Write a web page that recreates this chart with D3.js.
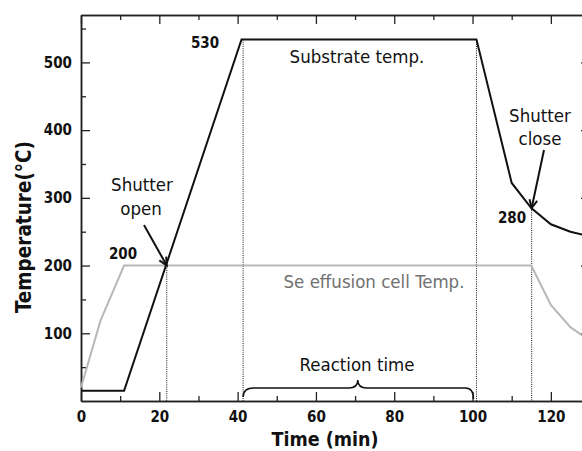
<!DOCTYPE html>
<html>
<head>
<meta charset="utf-8">
<script src="https://cdn.jsdelivr.net/npm/d3@7"></script>
<style>
  html, body { margin: 0; padding: 0; background: #fff; }
  svg { display: block; }
  text { font-family: "DejaVu Sans Condensed", "DejaVu Sans", sans-serif; font-stretch: condensed; }
</style>
</head>
<body>
<script>
// ---- data ----
const subTime = [0, 11, 41, 101, 110, 115, 120, 125, 130];
const subTemp = [15, 15, 534, 534, 322, 285, 261, 250, 243];
const seTime = [0, 5, 11, 115, 120, 125, 130];
const seTemp = [20, 119, 200, 200, 142, 109, 89];
const xMajorTicks = [0, 20, 40, 60, 80, 100, 120];
const xMinorTicks = [10, 30, 50, 70, 90, 110, 130];
const yMajorTicks = [100, 200, 300, 400, 500];
const yMinorTicks = [50, 150, 250, 350, 450, 550];
// vertical dotted markers: [time, temperature where the line starts]
const markerTime = [21.9, 41.4, 101, 115.1];
const markerTemp = [200, 534, 534, 285];
const reactionStart = 41.4, reactionEnd = 101;

const W = 582, H = 451;
const svg = d3.select("body").append("svg").attr("width", W).attr("height", H);

const x = d3.scaleLinear().domain([0, 130]).range([81, 590]);
const y = d3.scaleLinear().domain([0, 570]).range([401, 15]);

// axes
function styleAxis(g) {
  g.selectAll(".domain").attr("stroke", "#222").attr("stroke-width", 1.5);
  g.selectAll(".tick line").attr("stroke", "#222").attr("stroke-width", 1.3);
  g.selectAll(".tick text").attr("font-size", 15).attr("font-weight", "bold").attr("fill", "#111")
    .style("font-family", '"DejaVu Sans Condensed", "DejaVu Sans", sans-serif');
}
const axB = svg.append("g").attr("transform", `translate(0,${y(0)})`)
  .call(d3.axisBottom(x).tickValues(xMajorTicks).tickSize(-9).tickSizeOuter(0).tickPadding(10.5).tickFormat(d3.format("d")));
styleAxis(axB);
const axBm = svg.append("g").attr("transform", `translate(0,${y(0)})`)
  .call(d3.axisBottom(x).tickValues(xMinorTicks).tickSize(-5).tickSizeOuter(0).tickFormat(""));
styleAxis(axBm);
const axT = svg.append("g").attr("transform", `translate(0,${y(570)})`)
  .call(d3.axisTop(x).tickValues(xMajorTicks).tickSize(-9).tickSizeOuter(0).tickFormat(""));
styleAxis(axT);
const axTm = svg.append("g").attr("transform", `translate(0,${y(570)})`)
  .call(d3.axisTop(x).tickValues(xMinorTicks).tickSize(-5).tickSizeOuter(0).tickFormat(""));
styleAxis(axTm);
const axL = svg.append("g").attr("transform", `translate(${x(0)},0)`)
  .call(d3.axisLeft(y).tickValues(yMajorTicks).tickSize(-9).tickSizeOuter(0).tickPadding(9).tickFormat(d3.format("d")));
styleAxis(axL);
const axLm = svg.append("g").attr("transform", `translate(${x(0)},0)`)
  .call(d3.axisLeft(y).tickValues(yMinorTicks).tickSize(-5).tickSizeOuter(0).tickFormat(""));
styleAxis(axLm);
const axR = svg.append("g").attr("transform", `translate(${x(130)},0)`)
  .call(d3.axisRight(y).tickValues(yMajorTicks).tickSize(-9).tickSizeOuter(0).tickFormat(""));
styleAxis(axR);
const axRm = svg.append("g").attr("transform", `translate(${x(130)},0)`)
  .call(d3.axisRight(y).tickValues(yMinorTicks).tickSize(-5).tickSizeOuter(0).tickFormat(""));
styleAxis(axRm);

// axis titles
svg.append("text").attr("x", 325).attr("y", 446).attr("text-anchor", "middle")
  .attr("font-size", 19.5).attr("font-weight", "bold").attr("fill", "#111").text("Time (min)");
svg.append("text").attr("transform", "translate(31,227) rotate(-90)").attr("text-anchor", "middle")
  .attr("font-size", 20.5).attr("font-weight", "bold").attr("fill", "#111").text("Temperature(°C)");

// dotted markers
svg.append("g").selectAll("line").data(markerTime).join("line")
  .attr("x1", d => x(d)).attr("x2", d => x(d))
  .attr("y1", (d, i) => y(markerTemp[i])).attr("y2", y(0))
  .attr("stroke", "#111").attr("stroke-width", 1).attr("stroke-dasharray", "1,1.2");

// lines
const line = d3.line().x(d => x(d[0])).y(d => y(d[1]));
svg.append("path").datum(seTime.map((t, i) => [t, seTemp[i]]))
  .attr("d", line).attr("fill", "none").attr("stroke", "#b8b8b8").attr("stroke-width", 2);
svg.append("path").datum(subTime.map((t, i) => [t, subTemp[i]]))
  .attr("d", line).attr("fill", "none").attr("stroke", "#111").attr("stroke-width", 2);

// brace for reaction time
(function () {
  const xl = x(reactionStart), xr = x(reactionEnd), xm = (xl + xr) / 2 - 2;
  const yb = 388, yt = 380;
  const p = `M${xl},397 Q${xl},${yb} ${xl + 11},${yb} L${xm - 9},${yb} Q${xm},${yb} ${xm},${yt}` +
            ` Q${xm},${yb} ${xm + 9},${yb} L${xr - 11},${yb} Q${xr - 3},${yb} ${xr - 3},399`;
  svg.append("path").attr("d", p).attr("fill", "none").attr("stroke", "#111").attr("stroke-width", 1.5);
})();

// arrows
function arrow(x1, y1, x2, y2) {
  const g = svg.append("g").attr("stroke", "#111").attr("stroke-width", 2).attr("fill", "none");
  g.append("line").attr("x1", x1).attr("y1", y1).attr("x2", x2).attr("y2", y2);
  const a = Math.atan2(y2 - y1, x2 - x1), L = 9, s = 0.45;
  g.append("path").attr("d",
    `M${x2 - L * Math.cos(a - s)},${y2 - L * Math.sin(a - s)} L${x2},${y2} L${x2 - L * Math.cos(a + s)},${y2 - L * Math.sin(a + s)}`);
}
arrow(144, 225, x(markerTime[0]), y(markerTemp[0]));
arrow(544, 150, x(markerTime[3]), y(markerTemp[3]));

// annotation texts
const ann = svg.append("g").attr("font-size", 18.5).attr("fill", "#111").attr("text-anchor", "middle");
ann.append("text").attr("x", 142).attr("y", 191).text("Shutter");
ann.append("text").attr("x", 141).attr("y", 215).text("open");
ann.append("text").attr("x", 540).attr("y", 122).text("Shutter");
ann.append("text").attr("x", 540).attr("y", 145).text("close");
ann.append("text").attr("x", 357).attr("y", 63).text("Substrate temp.");
ann.append("text").attr("x", 357).attr("y", 371).text("Reaction time");
ann.append("text").attr("x", 374).attr("y", 288).attr("fill", "#707070").text("Se effusion cell Temp.");

const num = svg.append("g").attr("font-size", 15).attr("font-weight", "bold").attr("fill", "#111").attr("text-anchor", "middle");
num.append("text").attr("x", 205).attr("y", 48).text("530");
num.append("text").attr("x", 123).attr("y", 259).text("200");
num.append("text").attr("x", 512).attr("y", 223).text("280");
</script>
</body>
</html>
